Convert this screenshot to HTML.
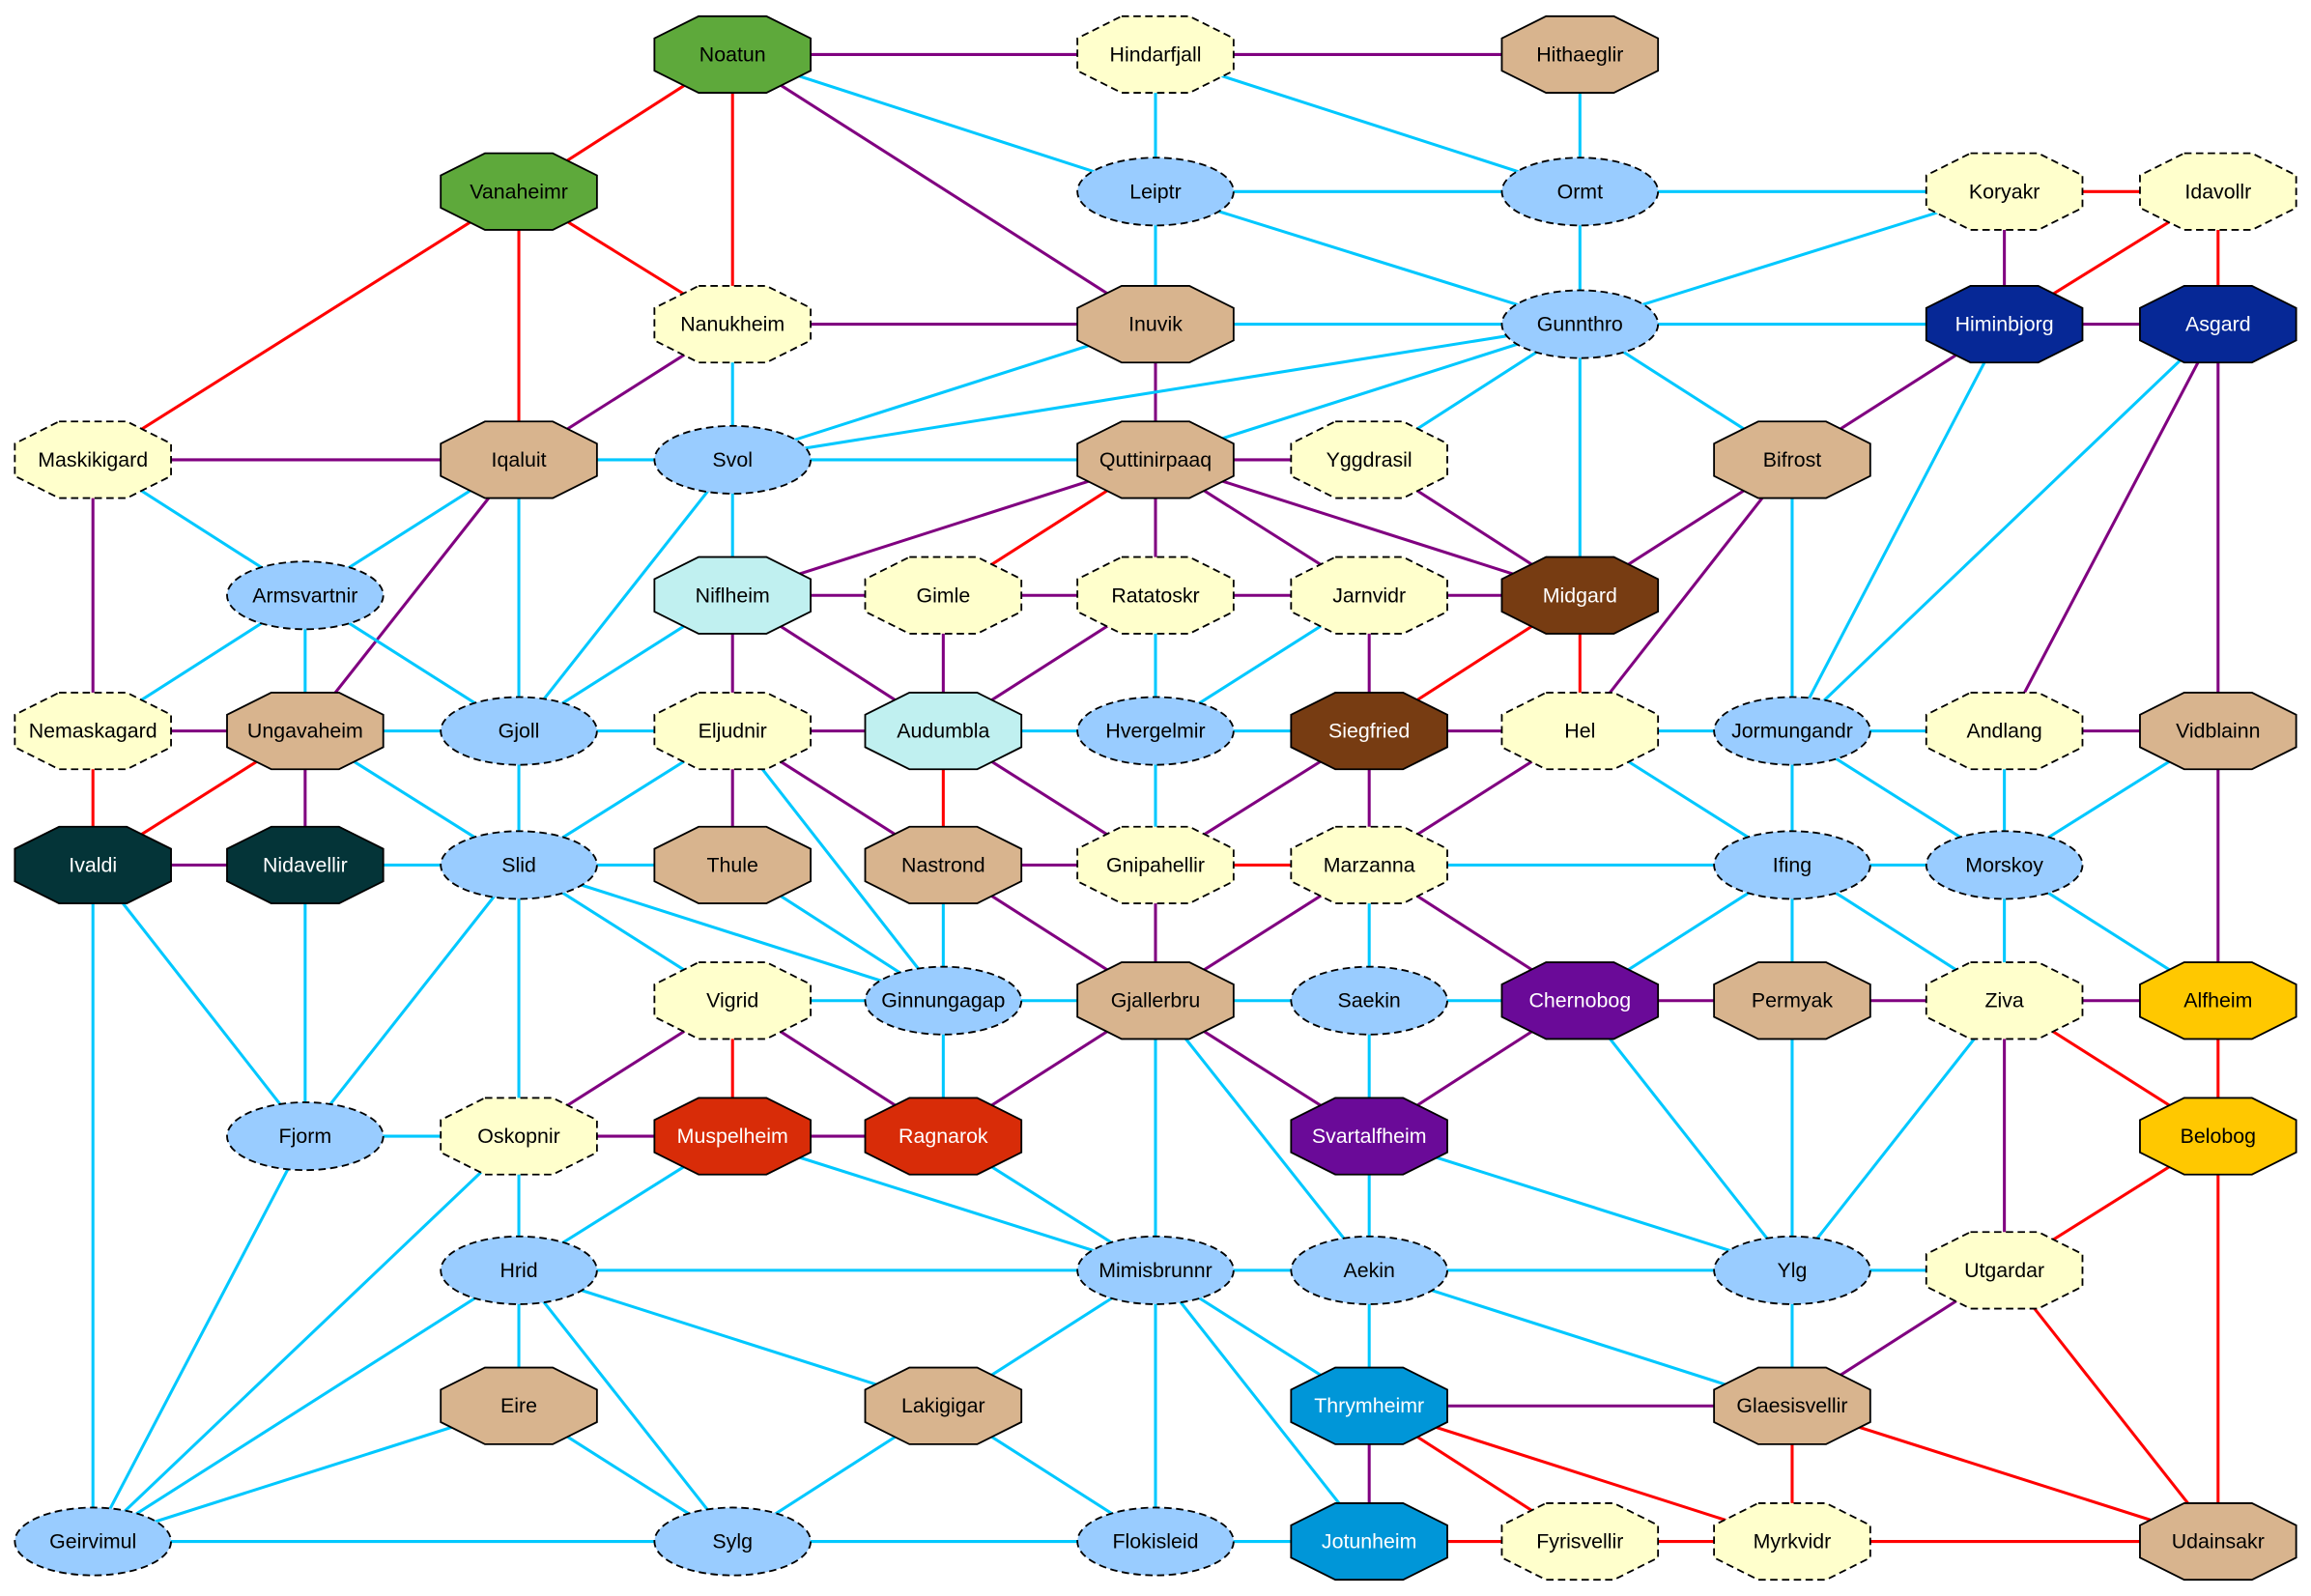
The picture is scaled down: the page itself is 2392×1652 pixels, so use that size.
<!DOCTYPE html>
<html><head><meta charset="utf-8"><style>
html,body{margin:0;padding:0;background:#fff}
svg{display:block}
.c{stroke:#00c8ff}.p{stroke:#800080}.r{stroke:#ff0000}
line{stroke-width:2}
text{font-family:"Liberation Sans",Arial,sans-serif;font-size:14px;text-anchor:middle;dominant-baseline:central}
.w{fill:#fff}
.n{stroke:#000;stroke-width:1.2}
.d{stroke-dasharray:5,3}
.Y{fill:#ffffcc}.T{fill:#d8b48e}.B{fill:#99ccff}.G{fill:#5ea93b}.DB{fill:#062896}.DT{fill:#043438}.LC{fill:#c0f0f0}.BR{fill:#773c12}.PU{fill:#6a0a98}.RD{fill:#d82c08}.GO{fill:#ffc800}.BL{fill:#0096d8}
</style></head><body>
<svg width="2392" height="1652" viewBox="0 0 1568 1083" xmlns="http://www.w3.org/2000/svg">
<defs><polygon id="o" points="-23,-26 23,-26 53,-11 53,11 23,26 -23,26 -53,11 -53,-11"/></defs>
<rect width="1568" height="1083" fill="#fff"/>
<g>
<line class="p" x1="497" y1="37" x2="784" y2="37"/>
<line class="p" x1="784" y1="37" x2="1072" y2="37"/>
<line class="r" x1="497" y1="37" x2="352" y2="130"/>
<line class="r" x1="497" y1="37" x2="497" y2="220"/>
<line class="c" x1="497" y1="37" x2="784" y2="130"/>
<line class="p" x1="497" y1="37" x2="784" y2="220"/>
<line class="c" x1="784" y1="37" x2="784" y2="130"/>
<line class="c" x1="784" y1="37" x2="1072" y2="130"/>
<line class="c" x1="1072" y1="37" x2="1072" y2="130"/>
<line class="r" x1="352" y1="130" x2="63" y2="312"/>
<line class="r" x1="352" y1="130" x2="352" y2="312"/>
<line class="r" x1="352" y1="130" x2="497" y2="220"/>
<line class="c" x1="784" y1="130" x2="1072" y2="130"/>
<line class="c" x1="784" y1="130" x2="784" y2="220"/>
<line class="c" x1="784" y1="130" x2="1072" y2="220"/>
<line class="c" x1="1072" y1="130" x2="1360" y2="130"/>
<line class="c" x1="1072" y1="130" x2="1072" y2="220"/>
<line class="r" x1="1360" y1="130" x2="1505" y2="130"/>
<line class="c" x1="1360" y1="130" x2="1072" y2="220"/>
<line class="p" x1="1360" y1="130" x2="1360" y2="220"/>
<line class="r" x1="1505" y1="130" x2="1360" y2="220"/>
<line class="r" x1="1505" y1="130" x2="1505" y2="220"/>
<line class="p" x1="497" y1="220" x2="784" y2="220"/>
<line class="p" x1="497" y1="220" x2="352" y2="312"/>
<line class="c" x1="497" y1="220" x2="497" y2="312"/>
<line class="c" x1="784" y1="220" x2="1072" y2="220"/>
<line class="c" x1="784" y1="220" x2="497" y2="312"/>
<line class="p" x1="784" y1="220" x2="784" y2="312"/>
<line class="c" x1="1072" y1="220" x2="1360" y2="220"/>
<line class="c" x1="1072" y1="220" x2="497" y2="312"/>
<line class="c" x1="1072" y1="220" x2="784" y2="312"/>
<line class="c" x1="1072" y1="220" x2="929" y2="312"/>
<line class="c" x1="1072" y1="220" x2="1072" y2="404"/>
<line class="c" x1="1072" y1="220" x2="1216" y2="312"/>
<line class="p" x1="1360" y1="220" x2="1505" y2="220"/>
<line class="p" x1="1360" y1="220" x2="1216" y2="312"/>
<line class="c" x1="1360" y1="220" x2="1216" y2="496"/>
<line class="c" x1="1505" y1="220" x2="1216" y2="496"/>
<line class="p" x1="1505" y1="220" x2="1360" y2="496"/>
<line class="p" x1="1505" y1="220" x2="1505" y2="496"/>
<line class="p" x1="63" y1="312" x2="352" y2="312"/>
<line class="c" x1="63" y1="312" x2="207" y2="404"/>
<line class="p" x1="63" y1="312" x2="63" y2="496"/>
<line class="c" x1="352" y1="312" x2="497" y2="312"/>
<line class="c" x1="352" y1="312" x2="207" y2="404"/>
<line class="c" x1="352" y1="312" x2="352" y2="496"/>
<line class="p" x1="352" y1="312" x2="207" y2="496"/>
<line class="c" x1="497" y1="312" x2="784" y2="312"/>
<line class="c" x1="497" y1="312" x2="497" y2="404"/>
<line class="c" x1="497" y1="312" x2="352" y2="496"/>
<line class="p" x1="784" y1="312" x2="929" y2="312"/>
<line class="p" x1="784" y1="312" x2="497" y2="404"/>
<line class="r" x1="784" y1="312" x2="640" y2="404"/>
<line class="p" x1="784" y1="312" x2="784" y2="404"/>
<line class="p" x1="784" y1="312" x2="929" y2="404"/>
<line class="p" x1="784" y1="312" x2="1072" y2="404"/>
<line class="p" x1="929" y1="312" x2="1072" y2="404"/>
<line class="p" x1="1216" y1="312" x2="1072" y2="404"/>
<line class="p" x1="1216" y1="312" x2="1072" y2="496"/>
<line class="c" x1="1216" y1="312" x2="1216" y2="496"/>
<line class="c" x1="207" y1="404" x2="63" y2="496"/>
<line class="c" x1="207" y1="404" x2="207" y2="496"/>
<line class="c" x1="207" y1="404" x2="352" y2="496"/>
<line class="p" x1="497" y1="404" x2="640" y2="404"/>
<line class="c" x1="497" y1="404" x2="352" y2="496"/>
<line class="p" x1="497" y1="404" x2="497" y2="496"/>
<line class="p" x1="497" y1="404" x2="640" y2="496"/>
<line class="p" x1="640" y1="404" x2="784" y2="404"/>
<line class="p" x1="640" y1="404" x2="640" y2="496"/>
<line class="p" x1="784" y1="404" x2="929" y2="404"/>
<line class="p" x1="784" y1="404" x2="640" y2="496"/>
<line class="c" x1="784" y1="404" x2="784" y2="496"/>
<line class="p" x1="929" y1="404" x2="1072" y2="404"/>
<line class="c" x1="929" y1="404" x2="784" y2="496"/>
<line class="p" x1="929" y1="404" x2="929" y2="496"/>
<line class="r" x1="1072" y1="404" x2="929" y2="496"/>
<line class="r" x1="1072" y1="404" x2="1072" y2="496"/>
<line class="p" x1="63" y1="496" x2="207" y2="496"/>
<line class="r" x1="63" y1="496" x2="63" y2="587"/>
<line class="c" x1="207" y1="496" x2="352" y2="496"/>
<line class="r" x1="207" y1="496" x2="63" y2="587"/>
<line class="p" x1="207" y1="496" x2="207" y2="587"/>
<line class="c" x1="207" y1="496" x2="352" y2="587"/>
<line class="c" x1="352" y1="496" x2="497" y2="496"/>
<line class="c" x1="352" y1="496" x2="352" y2="587"/>
<line class="p" x1="497" y1="496" x2="640" y2="496"/>
<line class="c" x1="497" y1="496" x2="352" y2="587"/>
<line class="p" x1="497" y1="496" x2="497" y2="587"/>
<line class="p" x1="497" y1="496" x2="640" y2="587"/>
<line class="c" x1="497" y1="496" x2="640" y2="679"/>
<line class="c" x1="640" y1="496" x2="784" y2="496"/>
<line class="r" x1="640" y1="496" x2="640" y2="587"/>
<line class="p" x1="640" y1="496" x2="784" y2="587"/>
<line class="c" x1="784" y1="496" x2="929" y2="496"/>
<line class="c" x1="784" y1="496" x2="784" y2="587"/>
<line class="p" x1="929" y1="496" x2="1072" y2="496"/>
<line class="p" x1="929" y1="496" x2="784" y2="587"/>
<line class="p" x1="929" y1="496" x2="929" y2="587"/>
<line class="c" x1="1072" y1="496" x2="1216" y2="496"/>
<line class="p" x1="1072" y1="496" x2="929" y2="587"/>
<line class="c" x1="1072" y1="496" x2="1216" y2="587"/>
<line class="c" x1="1216" y1="496" x2="1360" y2="496"/>
<line class="c" x1="1216" y1="496" x2="1216" y2="587"/>
<line class="c" x1="1216" y1="496" x2="1360" y2="587"/>
<line class="p" x1="1360" y1="496" x2="1505" y2="496"/>
<line class="c" x1="1360" y1="496" x2="1360" y2="587"/>
<line class="c" x1="1505" y1="496" x2="1360" y2="587"/>
<line class="p" x1="1505" y1="496" x2="1505" y2="679"/>
<line class="p" x1="63" y1="587" x2="207" y2="587"/>
<line class="c" x1="63" y1="587" x2="207" y2="771"/>
<line class="c" x1="63" y1="587" x2="63" y2="1046"/>
<line class="c" x1="207" y1="587" x2="352" y2="587"/>
<line class="c" x1="207" y1="587" x2="207" y2="771"/>
<line class="c" x1="352" y1="587" x2="497" y2="587"/>
<line class="c" x1="352" y1="587" x2="640" y2="679"/>
<line class="c" x1="352" y1="587" x2="497" y2="679"/>
<line class="c" x1="352" y1="587" x2="352" y2="771"/>
<line class="c" x1="352" y1="587" x2="207" y2="771"/>
<line class="c" x1="497" y1="587" x2="640" y2="679"/>
<line class="p" x1="640" y1="587" x2="784" y2="587"/>
<line class="c" x1="640" y1="587" x2="640" y2="679"/>
<line class="p" x1="640" y1="587" x2="784" y2="679"/>
<line class="r" x1="784" y1="587" x2="929" y2="587"/>
<line class="p" x1="784" y1="587" x2="784" y2="679"/>
<line class="c" x1="929" y1="587" x2="1216" y2="587"/>
<line class="p" x1="929" y1="587" x2="784" y2="679"/>
<line class="c" x1="929" y1="587" x2="929" y2="679"/>
<line class="p" x1="929" y1="587" x2="1072" y2="679"/>
<line class="c" x1="1216" y1="587" x2="1360" y2="587"/>
<line class="c" x1="1216" y1="587" x2="1072" y2="679"/>
<line class="c" x1="1216" y1="587" x2="1216" y2="679"/>
<line class="c" x1="1216" y1="587" x2="1360" y2="679"/>
<line class="c" x1="1360" y1="587" x2="1360" y2="679"/>
<line class="c" x1="1360" y1="587" x2="1505" y2="679"/>
<line class="c" x1="497" y1="679" x2="640" y2="679"/>
<line class="p" x1="497" y1="679" x2="352" y2="771"/>
<line class="r" x1="497" y1="679" x2="497" y2="771"/>
<line class="p" x1="497" y1="679" x2="640" y2="771"/>
<line class="c" x1="640" y1="679" x2="784" y2="679"/>
<line class="c" x1="640" y1="679" x2="640" y2="771"/>
<line class="c" x1="784" y1="679" x2="929" y2="679"/>
<line class="p" x1="784" y1="679" x2="640" y2="771"/>
<line class="p" x1="784" y1="679" x2="929" y2="771"/>
<line class="c" x1="784" y1="679" x2="784" y2="862"/>
<line class="c" x1="784" y1="679" x2="929" y2="862"/>
<line class="c" x1="929" y1="679" x2="1072" y2="679"/>
<line class="c" x1="929" y1="679" x2="929" y2="771"/>
<line class="p" x1="1072" y1="679" x2="1216" y2="679"/>
<line class="p" x1="1072" y1="679" x2="929" y2="771"/>
<line class="c" x1="1072" y1="679" x2="1216" y2="862"/>
<line class="p" x1="1216" y1="679" x2="1360" y2="679"/>
<line class="c" x1="1216" y1="679" x2="1216" y2="862"/>
<line class="p" x1="1360" y1="679" x2="1505" y2="679"/>
<line class="r" x1="1360" y1="679" x2="1505" y2="771"/>
<line class="c" x1="1360" y1="679" x2="1216" y2="862"/>
<line class="p" x1="1360" y1="679" x2="1360" y2="862"/>
<line class="r" x1="1505" y1="679" x2="1505" y2="771"/>
<line class="c" x1="207" y1="771" x2="352" y2="771"/>
<line class="c" x1="207" y1="771" x2="63" y2="1046"/>
<line class="p" x1="352" y1="771" x2="497" y2="771"/>
<line class="c" x1="352" y1="771" x2="352" y2="862"/>
<line class="c" x1="352" y1="771" x2="63" y2="1046"/>
<line class="p" x1="497" y1="771" x2="640" y2="771"/>
<line class="c" x1="497" y1="771" x2="352" y2="862"/>
<line class="c" x1="497" y1="771" x2="784" y2="862"/>
<line class="c" x1="640" y1="771" x2="784" y2="862"/>
<line class="c" x1="929" y1="771" x2="929" y2="862"/>
<line class="c" x1="929" y1="771" x2="1216" y2="862"/>
<line class="r" x1="1505" y1="771" x2="1360" y2="862"/>
<line class="r" x1="1505" y1="771" x2="1505" y2="1046"/>
<line class="c" x1="352" y1="862" x2="784" y2="862"/>
<line class="c" x1="352" y1="862" x2="352" y2="954"/>
<line class="c" x1="352" y1="862" x2="640" y2="954"/>
<line class="c" x1="352" y1="862" x2="63" y2="1046"/>
<line class="c" x1="352" y1="862" x2="497" y2="1046"/>
<line class="c" x1="784" y1="862" x2="929" y2="862"/>
<line class="c" x1="784" y1="862" x2="640" y2="954"/>
<line class="c" x1="784" y1="862" x2="929" y2="954"/>
<line class="c" x1="784" y1="862" x2="784" y2="1046"/>
<line class="c" x1="784" y1="862" x2="929" y2="1046"/>
<line class="c" x1="929" y1="862" x2="1216" y2="862"/>
<line class="c" x1="929" y1="862" x2="929" y2="954"/>
<line class="c" x1="929" y1="862" x2="1216" y2="954"/>
<line class="c" x1="1216" y1="862" x2="1360" y2="862"/>
<line class="c" x1="1216" y1="862" x2="1216" y2="954"/>
<line class="p" x1="1360" y1="862" x2="1216" y2="954"/>
<line class="r" x1="1360" y1="862" x2="1505" y2="1046"/>
<line class="c" x1="352" y1="954" x2="63" y2="1046"/>
<line class="c" x1="352" y1="954" x2="497" y2="1046"/>
<line class="c" x1="640" y1="954" x2="497" y2="1046"/>
<line class="c" x1="640" y1="954" x2="784" y2="1046"/>
<line class="p" x1="929" y1="954" x2="1216" y2="954"/>
<line class="p" x1="929" y1="954" x2="929" y2="1046"/>
<line class="r" x1="929" y1="954" x2="1072" y2="1046"/>
<line class="r" x1="929" y1="954" x2="1216" y2="1046"/>
<line class="r" x1="1216" y1="954" x2="1216" y2="1046"/>
<line class="r" x1="1216" y1="954" x2="1505" y2="1046"/>
<line class="c" x1="63" y1="1046" x2="497" y2="1046"/>
<line class="c" x1="497" y1="1046" x2="784" y2="1046"/>
<line class="c" x1="784" y1="1046" x2="929" y2="1046"/>
<line class="r" x1="929" y1="1046" x2="1072" y2="1046"/>
<line class="r" x1="1072" y1="1046" x2="1216" y2="1046"/>
<line class="r" x1="1216" y1="1046" x2="1505" y2="1046"/>
</g>
<g>
<use href="#o" x="497" y="37" class="n G"/><text x="497" y="37">Noatun</text>
<use href="#o" x="784" y="37" class="n d Y"/><text x="784" y="37">Hindarfjall</text>
<use href="#o" x="1072" y="37" class="n T"/><text x="1072" y="37">Hithaeglir</text>
<use href="#o" x="352" y="130" class="n G"/><text x="352" y="130">Vanaheimr</text>
<ellipse cx="784" cy="130" rx="53" ry="23" class="n d B"/><text x="784" y="130">Leiptr</text>
<ellipse cx="1072" cy="130" rx="53" ry="23" class="n d B"/><text x="1072" y="130">Ormt</text>
<use href="#o" x="1360" y="130" class="n d Y"/><text x="1360" y="130">Koryakr</text>
<use href="#o" x="1505" y="130" class="n d Y"/><text x="1505" y="130">Idavollr</text>
<use href="#o" x="497" y="220" class="n d Y"/><text x="497" y="220">Nanukheim</text>
<use href="#o" x="784" y="220" class="n T"/><text x="784" y="220">Inuvik</text>
<ellipse cx="1072" cy="220" rx="53" ry="23" class="n d B"/><text x="1072" y="220">Gunnthro</text>
<use href="#o" x="1360" y="220" class="n DB"/><text x="1360" y="220" class="w">Himinbjorg</text>
<use href="#o" x="1505" y="220" class="n DB"/><text x="1505" y="220" class="w">Asgard</text>
<use href="#o" x="63" y="312" class="n d Y"/><text x="63" y="312">Maskikigard</text>
<use href="#o" x="352" y="312" class="n T"/><text x="352" y="312">Iqaluit</text>
<ellipse cx="497" cy="312" rx="53" ry="23" class="n d B"/><text x="497" y="312">Svol</text>
<use href="#o" x="784" y="312" class="n T"/><text x="784" y="312">Quttinirpaaq</text>
<use href="#o" x="929" y="312" class="n d Y"/><text x="929" y="312">Yggdrasil</text>
<use href="#o" x="1216" y="312" class="n T"/><text x="1216" y="312">Bifrost</text>
<ellipse cx="207" cy="404" rx="53" ry="23" class="n d B"/><text x="207" y="404">Armsvartnir</text>
<use href="#o" x="497" y="404" class="n LC"/><text x="497" y="404">Niflheim</text>
<use href="#o" x="640" y="404" class="n d Y"/><text x="640" y="404">Gimle</text>
<use href="#o" x="784" y="404" class="n d Y"/><text x="784" y="404">Ratatoskr</text>
<use href="#o" x="929" y="404" class="n d Y"/><text x="929" y="404">Jarnvidr</text>
<use href="#o" x="1072" y="404" class="n BR"/><text x="1072" y="404" class="w">Midgard</text>
<use href="#o" x="63" y="496" class="n d Y"/><text x="63" y="496">Nemaskagard</text>
<use href="#o" x="207" y="496" class="n T"/><text x="207" y="496">Ungavaheim</text>
<ellipse cx="352" cy="496" rx="53" ry="23" class="n d B"/><text x="352" y="496">Gjoll</text>
<use href="#o" x="497" y="496" class="n d Y"/><text x="497" y="496">Eljudnir</text>
<use href="#o" x="640" y="496" class="n LC"/><text x="640" y="496">Audumbla</text>
<ellipse cx="784" cy="496" rx="53" ry="23" class="n d B"/><text x="784" y="496">Hvergelmir</text>
<use href="#o" x="929" y="496" class="n BR"/><text x="929" y="496" class="w">Siegfried</text>
<use href="#o" x="1072" y="496" class="n d Y"/><text x="1072" y="496">Hel</text>
<ellipse cx="1216" cy="496" rx="53" ry="23" class="n d B"/><text x="1216" y="496">Jormungandr</text>
<use href="#o" x="1360" y="496" class="n d Y"/><text x="1360" y="496">Andlang</text>
<use href="#o" x="1505" y="496" class="n T"/><text x="1505" y="496">Vidblainn</text>
<use href="#o" x="63" y="587" class="n DT"/><text x="63" y="587" class="w">Ivaldi</text>
<use href="#o" x="207" y="587" class="n DT"/><text x="207" y="587" class="w">Nidavellir</text>
<ellipse cx="352" cy="587" rx="53" ry="23" class="n d B"/><text x="352" y="587">Slid</text>
<use href="#o" x="497" y="587" class="n T"/><text x="497" y="587">Thule</text>
<use href="#o" x="640" y="587" class="n T"/><text x="640" y="587">Nastrond</text>
<use href="#o" x="784" y="587" class="n d Y"/><text x="784" y="587">Gnipahellir</text>
<use href="#o" x="929" y="587" class="n d Y"/><text x="929" y="587">Marzanna</text>
<ellipse cx="1216" cy="587" rx="53" ry="23" class="n d B"/><text x="1216" y="587">Ifing</text>
<ellipse cx="1360" cy="587" rx="53" ry="23" class="n d B"/><text x="1360" y="587">Morskoy</text>
<use href="#o" x="497" y="679" class="n d Y"/><text x="497" y="679">Vigrid</text>
<ellipse cx="640" cy="679" rx="53" ry="23" class="n d B"/><text x="640" y="679">Ginnungagap</text>
<use href="#o" x="784" y="679" class="n T"/><text x="784" y="679">Gjallerbru</text>
<ellipse cx="929" cy="679" rx="53" ry="23" class="n d B"/><text x="929" y="679">Saekin</text>
<use href="#o" x="1072" y="679" class="n PU"/><text x="1072" y="679" class="w">Chernobog</text>
<use href="#o" x="1216" y="679" class="n T"/><text x="1216" y="679">Permyak</text>
<use href="#o" x="1360" y="679" class="n d Y"/><text x="1360" y="679">Ziva</text>
<use href="#o" x="1505" y="679" class="n GO"/><text x="1505" y="679">Alfheim</text>
<ellipse cx="207" cy="771" rx="53" ry="23" class="n d B"/><text x="207" y="771">Fjorm</text>
<use href="#o" x="352" y="771" class="n d Y"/><text x="352" y="771">Oskopnir</text>
<use href="#o" x="497" y="771" class="n RD"/><text x="497" y="771" class="w">Muspelheim</text>
<use href="#o" x="640" y="771" class="n RD"/><text x="640" y="771" class="w">Ragnarok</text>
<use href="#o" x="929" y="771" class="n PU"/><text x="929" y="771" class="w">Svartalfheim</text>
<use href="#o" x="1505" y="771" class="n GO"/><text x="1505" y="771">Belobog</text>
<ellipse cx="352" cy="862" rx="53" ry="23" class="n d B"/><text x="352" y="862">Hrid</text>
<ellipse cx="784" cy="862" rx="53" ry="23" class="n d B"/><text x="784" y="862">Mimisbrunnr</text>
<ellipse cx="929" cy="862" rx="53" ry="23" class="n d B"/><text x="929" y="862">Aekin</text>
<ellipse cx="1216" cy="862" rx="53" ry="23" class="n d B"/><text x="1216" y="862">Ylg</text>
<use href="#o" x="1360" y="862" class="n d Y"/><text x="1360" y="862">Utgardar</text>
<use href="#o" x="352" y="954" class="n T"/><text x="352" y="954">Eire</text>
<use href="#o" x="640" y="954" class="n T"/><text x="640" y="954">Lakigigar</text>
<use href="#o" x="929" y="954" class="n BL"/><text x="929" y="954" class="w">Thrymheimr</text>
<use href="#o" x="1216" y="954" class="n T"/><text x="1216" y="954">Glaesisvellir</text>
<ellipse cx="63" cy="1046" rx="53" ry="23" class="n d B"/><text x="63" y="1046">Geirvimul</text>
<ellipse cx="497" cy="1046" rx="53" ry="23" class="n d B"/><text x="497" y="1046">Sylg</text>
<ellipse cx="784" cy="1046" rx="53" ry="23" class="n d B"/><text x="784" y="1046">Flokisleid</text>
<use href="#o" x="929" y="1046" class="n BL"/><text x="929" y="1046" class="w">Jotunheim</text>
<use href="#o" x="1072" y="1046" class="n d Y"/><text x="1072" y="1046">Fyrisvellir</text>
<use href="#o" x="1216" y="1046" class="n d Y"/><text x="1216" y="1046">Myrkvidr</text>
<use href="#o" x="1505" y="1046" class="n T"/><text x="1505" y="1046">Udainsakr</text>
</g>
</svg>
</body></html>
